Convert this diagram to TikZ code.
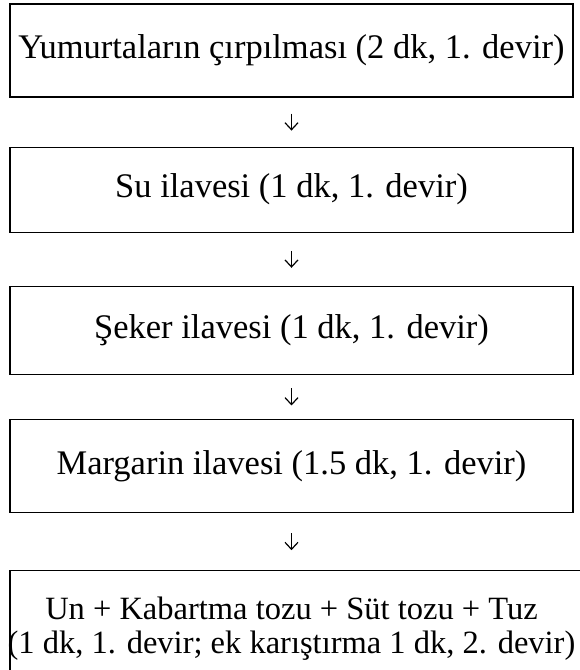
\documentclass[tikz,border=0pt]{standalone}
\usepackage{fontspec}
\setmainfont{Liberation Serif}
\usetikzlibrary{positioning, arrows.meta}

\begin{document}
\begin{tikzpicture}[x=1pt, y=1pt, node distance=49pt,
    every node/.style={inner sep=0pt, font=\fontsize{34.5}{35}\selectfont},
    stepbox/.style={rectangle, draw, line width=1.2pt, minimum width=563pt},
    flow/.style={-{Straight Barb[length=7pt,width=13pt]}, line width=1.2pt}]
    \clip (0,0) rectangle (580,670);
    % Process steps
    \node[stepbox, minimum height=93pt] (eggs) at (291.5,619.5) {Yumurtaların çırpılması (2 dk, 1. devir)};
    \node[stepbox, minimum height=85pt, below=49pt of eggs] (water) {Su ilavesi (1 dk, 1. devir)};
    \node[stepbox, minimum height=88pt, below=53pt of water] (sugar) {Şeker ilavesi (1 dk, 1. devir)};
    \node[stepbox, minimum height=93pt, below=44pt of sugar] (marg) {Margarin ilavesi (1.5 dk, 1. devir)};
    \node[stepbox, minimum height=103pt, minimum width=573pt, below=57pt of marg, xshift=5pt] (mix) {};
    \node[align=center, yshift=-6pt, xshift=-5pt, font=\fontsize{32.5}{34}\selectfont] (mixtext) at (mix.center) {Un + Kabartma tozu + Süt tozu + Tuz\\(1 dk, 1. devir; ek karıştırma 1 dk, 2. devir)};

    % Arrows
    \draw[flow, shorten <=16pt, shorten >=16pt] (eggs) -- (water);
    \draw[flow, shorten <=18pt, shorten >=18pt] (water) -- (sugar);
    \draw[flow, shorten <=13.5pt, shorten >=13.5pt] (sugar) -- (marg);
    \draw[flow, shorten <=20pt, shorten >=20pt] (marg.south) -- (marg.south |- mix.north);
\end{tikzpicture}
\end{document}
